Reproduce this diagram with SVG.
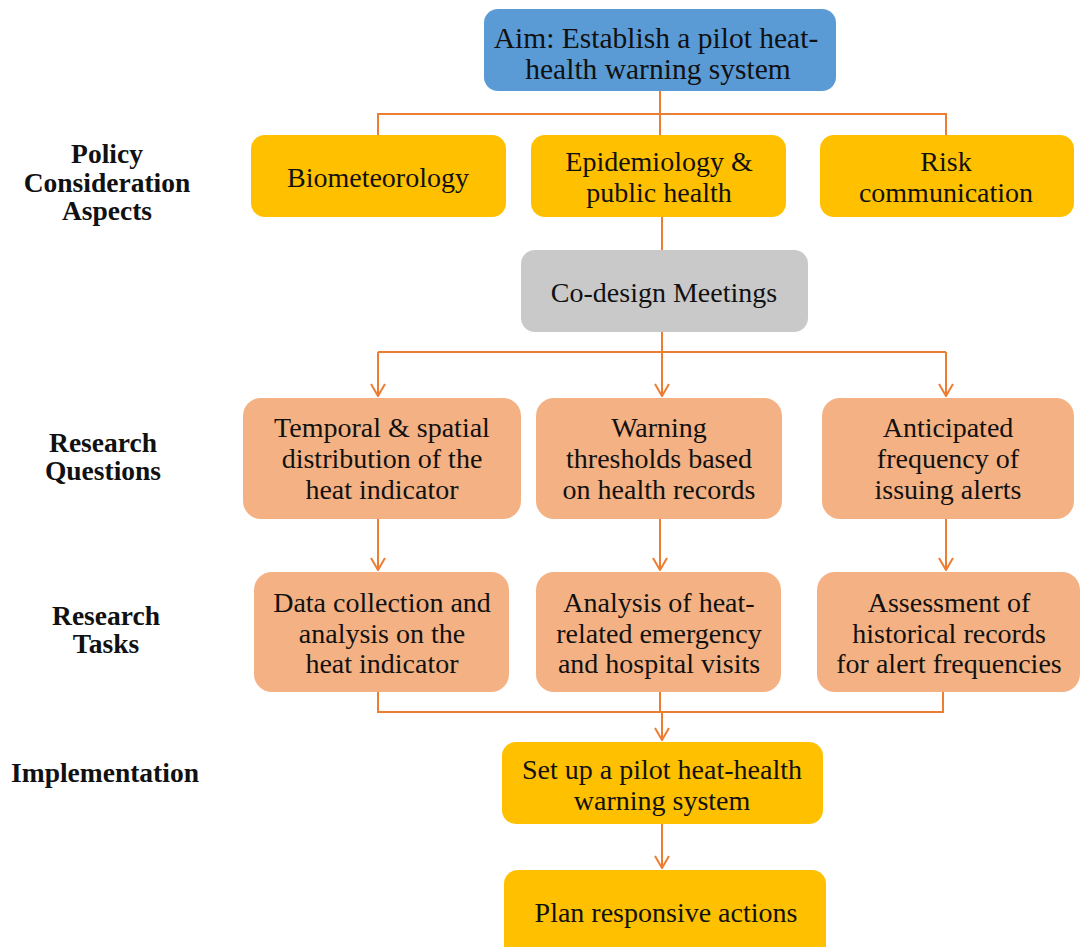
<svg xmlns="http://www.w3.org/2000/svg" width="1082" height="947" viewBox="0 0 1082 947">
<defs>
<marker id="arr" viewBox="0 0 16 16" refX="15" refY="8" markerWidth="16" markerHeight="16" markerUnits="userSpaceOnUse" orient="auto">
<path d="M3,1 L15,8 L3,15" fill="none" stroke="#ED7D31" stroke-width="2"/>
</marker>
<style>
.n{font-family:"Liberation Serif","Times New Roman",serif;font-size:28px;fill:#111;text-anchor:middle}
.l{font-family:"Liberation Serif","Times New Roman",serif;font-size:27.5px;font-weight:bold;fill:#111;text-anchor:middle}
.c{fill:none;stroke:#ED7D31;stroke-width:2}
.y{fill:#FFC000}
.o{fill:#F4B183}
</style>
</defs>
<rect width="1082" height="947" fill="#fff"/>
<g id="connectors">
<path class="c" d="M660,91 V114 M378,135 V114 H946 V135 M660,114 V135"/>
<path class="c" d="M662,217 V250"/>
<path class="c" d="M662,332 V352 M378,352 H946"/>
<path class="c" d="M378,352 V396" marker-end="url(#arr)"/>
<path class="c" d="M662,352 V396" marker-end="url(#arr)"/>
<path class="c" d="M946,352 V396" marker-end="url(#arr)"/>
<path class="c" d="M378,519 V570" marker-end="url(#arr)"/>
<path class="c" d="M660,519 V570" marker-end="url(#arr)"/>
<path class="c" d="M946,519 V570" marker-end="url(#arr)"/>
<path class="c" d="M378,692 V712 H943 V692 M660,692 V712"/>
<path class="c" d="M662,712 V740" marker-end="url(#arr)"/>
<path class="c" d="M662,824 V868" marker-end="url(#arr)"/>
</g>
<g id="labels">
<text class="l" x="107" y="163">Policy</text>
<text class="l" x="107" y="192">Consideration</text>
<text class="l" x="107" y="220">Aspects</text>
<text class="l" x="103" y="452">Research</text>
<text class="l" x="103" y="480">Questions</text>
<text class="l" x="106" y="625">Research</text>
<text class="l" x="106" y="653">Tasks</text>
<text class="l" x="105" y="782">Implementation</text>
</g>
<g id="aim">
<rect x="484" y="9" width="352" height="82" rx="14" fill="#5B9BD5"/>
<text class="n" x="656" y="48" style="font-size:29.5px">Aim: Establish a pilot heat-</text>
<text class="n" x="658" y="79" style="font-size:29.5px">health warning system</text>
</g>
<g id="biometeorology">
<rect class="y" x="251" y="135" width="255" height="82" rx="14"/>
<text class="n" x="378" y="187">Biometeorology</text>
</g>
<g id="epidemiology">
<rect class="y" x="531" y="135" width="255" height="82" rx="14"/>
<text class="n" x="659" y="171">Epidemiology &amp;</text>
<text class="n" x="659" y="202">public health</text>
</g>
<g id="risk">
<rect class="y" x="820" y="135" width="254" height="82" rx="14"/>
<text class="n" x="946" y="171">Risk</text>
<text class="n" x="946" y="202">communication</text>
</g>
<g id="codesign">
<rect x="521" y="250" width="287" height="82" rx="14" fill="#C9C9C9"/>
<text class="n" x="664" y="302">Co-design Meetings</text>
</g>
<g id="rq1">
<rect class="o" x="243" y="398" width="278" height="121" rx="18"/>
<text class="n" x="382" y="437">Temporal &amp; spatial</text>
<text class="n" x="382" y="468">distribution of the</text>
<text class="n" x="382" y="499">heat indicator</text>
</g>
<g id="rq2">
<rect class="o" x="536" y="398" width="246" height="121" rx="18"/>
<text class="n" x="659" y="437">Warning</text>
<text class="n" x="659" y="468">thresholds based</text>
<text class="n" x="659" y="499">on health records</text>
</g>
<g id="rq3">
<rect class="o" x="822" y="398" width="252" height="121" rx="18"/>
<text class="n" x="948" y="437">Anticipated</text>
<text class="n" x="948" y="468">frequency of</text>
<text class="n" x="948" y="499">issuing alerts</text>
</g>
<g id="rt1">
<rect class="o" x="254" y="572" width="255" height="120" rx="18"/>
<text class="n" x="382" y="612">Data collection and</text>
<text class="n" x="382" y="643">analysis on the</text>
<text class="n" x="382" y="673">heat indicator</text>
</g>
<g id="rt2">
<rect class="o" x="536" y="572" width="245" height="120" rx="18"/>
<text class="n" x="659" y="612">Analysis of heat-</text>
<text class="n" x="659" y="643">related emergency</text>
<text class="n" x="659" y="673">and hospital visits</text>
</g>
<g id="rt3">
<rect class="o" x="817" y="572" width="263" height="120" rx="18"/>
<text class="n" x="949" y="612">Assessment of</text>
<text class="n" x="949" y="643">historical records</text>
<text class="n" x="949" y="673">for alert frequencies</text>
</g>
<g id="implement">
<rect class="y" x="502" y="742" width="321" height="82" rx="14"/>
<text class="n" x="662" y="779">Set up a pilot heat-health</text>
<text class="n" x="662" y="810">warning system</text>
</g>
<g id="plan">
<rect class="y" x="504" y="870" width="322" height="90" rx="14"/>
<text class="n" x="666" y="922">Plan responsive actions</text>
</g>
</svg>
